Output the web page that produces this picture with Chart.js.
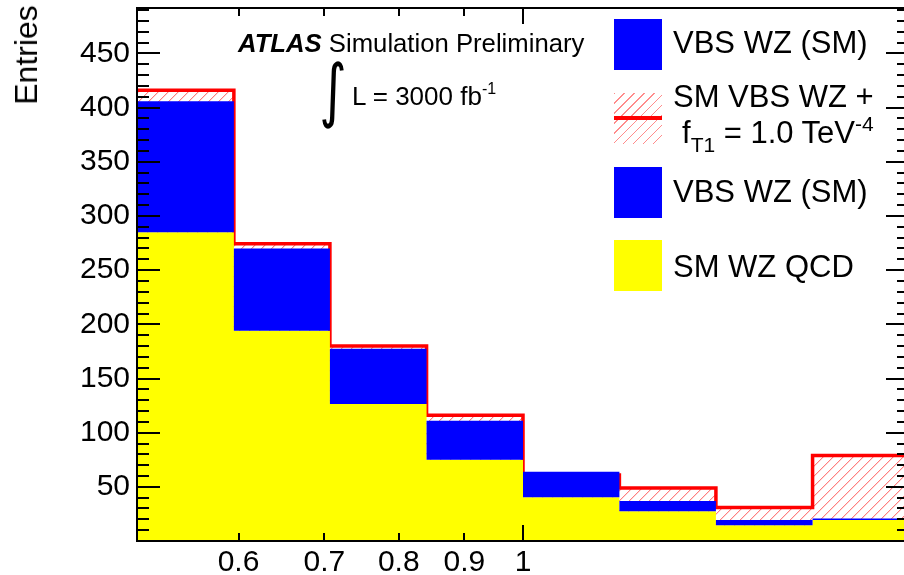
<!DOCTYPE html>
<html lang="en">

<head>
  <meta charset="UTF-8">
  <title>VBS WZ fT1</title>
  <script src="https://cdn.jsdelivr.net/npm/chart.js"></script>
  <style>
    html, body {
      margin: 0;
      padding: 0;
      background: #fff;
      overflow: hidden;
    }

    #wrap {
      position: relative;
      width: 904px;
      height: 575px;
      overflow: hidden;
      font-family: 'Liberation Sans', Arial, Helvetica, sans-serif;
      color: #000;
    }

    #wrap canvas {
      position: absolute;
      left: 0;
      top: 0;
    }

    .txt {
      position: absolute;
      white-space: nowrap;
      line-height: 1;
    }

    .swatch {
      position: absolute;
      left: 614px;
      width: 48px;
      height: 51px;
    }
  </style>
</head>

<body>

  <div id="wrap">
    <canvas id="myChart" width="909" height="575"></canvas>

    <div class="txt" style="left:26px; top:55px; font-size:32px; transform:translate(-50%,-50%) rotate(-90deg);">Entries</div>

    <div class="txt" style="left:238px; top:31px; font-size:25.7px;"><b><i>ATLAS</i></b> Simulation Preliminary</div>
    <div class="txt" style="left:333px; top:90px; font-size:62px; font-family:'DejaVu Sans'; transform:translate(-50%,-50%) scale(0.85,1.12);">&#8747;</div>
    <div class="txt" style="left:352px; top:83px; font-size:26px;">L = 3000 fb<span style="font-size:16px; position:relative; top:-11px;">-1</span></div>

    <!-- legend -->
    <div class="swatch" style="top:19px; background:#0000ff;"></div>
    <div class="txt" style="left:673px; top:27px; font-size:31px;">VBS WZ (SM)</div>

    <div class="swatch" style="top:93px; background:repeating-linear-gradient(135deg, rgba(255,0,0,0.45) 0 1px, transparent 1px 7px);"></div>
    <div class="swatch" style="top:116px; height:4px; background:#ff0000;"></div>
    <div class="txt" style="left:673px; top:81px; font-size:31px;">SM VBS WZ +</div>
    <div class="txt" style="left:682px; top:117px; font-size:31px;">f<span style="font-size:21px; position:relative; top:9px;">T1</span> = 1.0 TeV<span style="font-size:21px; position:relative; top:-12px;">-4</span></div>

    <div class="swatch" style="top:167px; background:#0000ff;"></div>
    <div class="txt" style="left:673px; top:176px; font-size:31px;">VBS WZ (SM)</div>

    <div class="swatch" style="top:240px; background:#ffff00;"></div>
    <div class="txt" style="left:673px; top:251px; font-size:31px;">SM WZ QCD</div>
  </div>

  <script>
    // histogram bin edges (log x axis)
    const binEdges = [0.5, 0.595, 0.707, 0.841, 1.0, 1.189, 1.414, 1.682, 2.0];
    // per-bin entries
    const smWzQcd = [285, 194, 126.5, 75, 40.5, 27.5, 14.5, 19.5];
    const vbsWzSm = [121, 76, 51, 36, 23.5, 9.5, 5, 1.2];
    const vbsWzFt1 = [131, 80.5, 53.5, 41, 20.5, 21.5, 16.5, 59.5]; // SM VBS WZ + fT1 = 1.0 TeV^-4

    const xTickValues = [0.6, 0.7, 0.8, 0.9, 1];
    const xTickLabels = ['0.6', '0.7', '0.8', '0.9', '1'];
    const yTickValues = [50, 100, 150, 200, 250, 300, 350, 400, 450];

    // stacked tops
    const qcdTop = smWzQcd;
    const smTop = smWzQcd.map((v, i) => v + vbsWzSm[i]);
    const eftTop = smWzQcd.map((v, i) => v + vbsWzFt1[i]);

    // one point per bin edge, last bin value repeated at the right edge
    const toSteps = (vals) => binEdges.map((e, i) => ({ x: e, y: vals[Math.min(i, vals.length - 1)] }));

    // red hatch pattern, pixel drawn so it stays crisp
    const pc = document.createElement('canvas');
    pc.width = 10;
    pc.height = 10;
    const pctx = pc.getContext('2d');
    for (let i = 0; i < 10; i++) {
      pctx.fillStyle = 'rgba(255,0,0,0.5)';
      pctx.fillRect(i, 9 - i, 1, 1);
      pctx.fillStyle = 'rgba(255,0,0,0.15)';
      pctx.fillRect(i, (10 - i) % 10, 1, 1);
    }
    const hatch = pctx.createPattern(pc, 'repeat');

    // ROOT style frame with inward ticks, drawn over the histograms
    const rootFrame = {
      id: 'rootFrame',
      afterDatasetsDraw(chart) {
        const { ctx, chartArea: a, scales: { x, y } } = chart;
        ctx.save();
        ctx.strokeStyle = '#000';
        ctx.lineWidth = 2;
        ctx.strokeRect(a.left, a.top, a.right - a.left, a.bottom - a.top);
        ctx.beginPath();
        for (let v = 10; v < y.max; v += 10) {
          const py = Math.round(y.getPixelForValue(v));
          const len = v % 50 === 0 ? 23 : 12;
          ctx.moveTo(a.left, py); ctx.lineTo(a.left + len, py);
          ctx.moveTo(a.right, py); ctx.lineTo(a.right - len, py);
        }
        xTickValues.forEach((v) => {
          const px = Math.round(x.getPixelForValue(v));
          const len = v === 1 ? 16 : 8;
          ctx.moveTo(px, a.bottom); ctx.lineTo(px, a.bottom - len);
          ctx.moveTo(px, a.top); ctx.lineTo(px, a.top + len);
        });
        ctx.stroke();
        ctx.restore();
      }
    };

    const ctx = document.getElementById('myChart').getContext('2d');

    new Chart(ctx, {
      type: 'line',
      data: {
        datasets: [
          {
            label: 'SM WZ QCD',
            data: toSteps(qcdTop),
            stepped: true,
            borderWidth: 0,
            borderColor: '#ffff00',
            backgroundColor: '#ffff00',
            fill: 'origin',
            pointRadius: 0,
            order: 1,
          },
          {
            label: 'VBS WZ (SM)',
            data: toSteps(smTop),
            stepped: true,
            borderWidth: 0,
            borderColor: '#0000ff',
            backgroundColor: '#0000ff',
            fill: 0,
            pointRadius: 0,
            order: 0,
          },
          {
            label: 'SM VBS WZ + fT1 = 1.0 TeV-4',
            data: toSteps(eftTop),
            stepped: true,
            borderWidth: 3.5,
            borderColor: '#ff0000',
            backgroundColor: hatch,
            fill: 'origin',
            pointRadius: 0,
            order: 2,
          },
        ],
      },
      options: {
        responsive: false,
        animation: false,
        layout: { padding: { top: 8, left: 0, right: 0, bottom: 0 } },
        plugins: {
          legend: { display: false },
          tooltip: { enabled: false },
        },
        scales: {
          x: {
            type: 'logarithmic',
            min: 0.5,
            max: 2,
            grid: { display: false, drawTicks: false },
            border: { display: false },
            afterBuildTicks: (scale) => {
              scale.ticks = xTickValues.map((v) => ({ value: v }));
            },
            afterFit: (scale) => {
              scale.height = 34;
              scale.paddingLeft = 0;
              scale.paddingRight = 0;
            },
            ticks: {
              autoSkip: false,
              maxRotation: 0,
              padding: 4,
              color: '#000',
              font: { family: 'Liberation Sans', size: 30 },
              callback: (value, index) => xTickLabels[index],
            },
          },
          y: {
            type: 'linear',
            min: 0,
            max: 492,
            grid: { display: false, drawTicks: false },
            border: { display: false },
            afterBuildTicks: (scale) => {
              scale.ticks = yTickValues.map((v) => ({ value: v }));
            },
            afterFit: (scale) => {
              scale.width = 137;
              scale.paddingTop = 0;
              scale.paddingBottom = 0;
            },
            ticks: {
              padding: 7,
              color: '#000',
              font: { family: 'Liberation Sans', size: 30 },
              callback: (value) => String(value),
            },
          },
        },
      },
      plugins: [rootFrame],
    });
  </script>

</body>

</html>
